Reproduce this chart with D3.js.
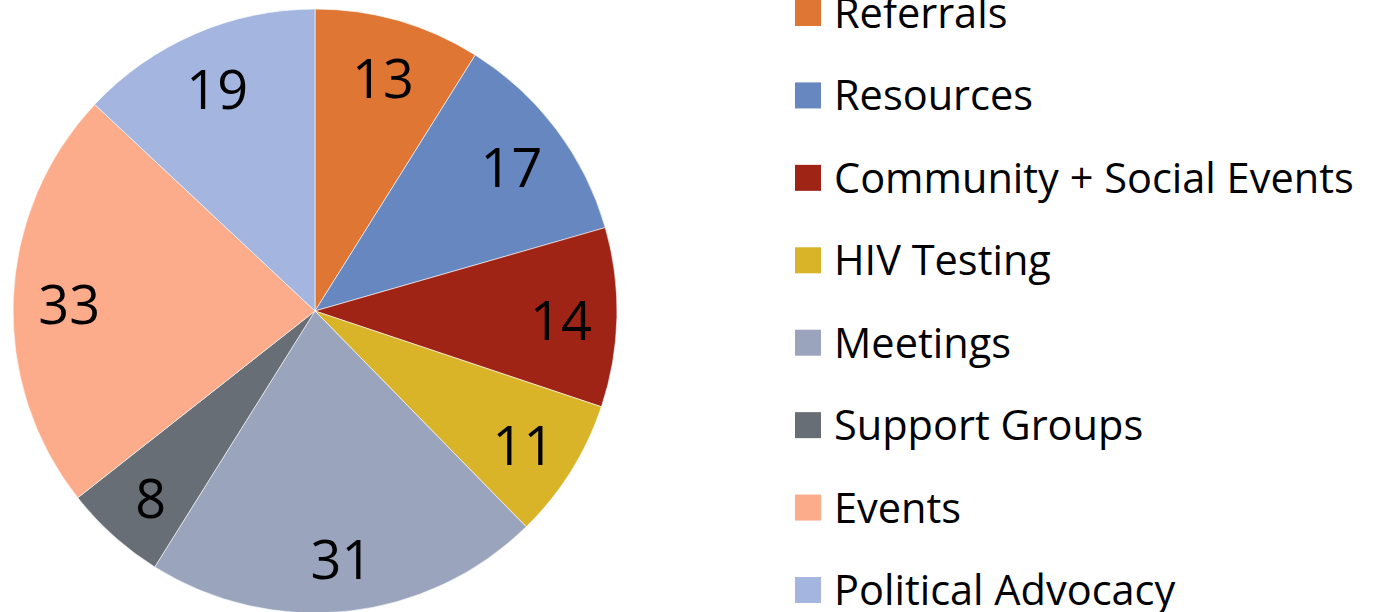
<!DOCTYPE html>
<html>
<head>
<meta charset="utf-8">
<script src="https://cdn.jsdelivr.net/npm/d3@7"></script>
<style>
  body { margin: 0; background: #fff; }
  text { font-family: "Open Sans", sans-serif; fill: #000; }
</style>
</head>
<body>
<div id="chart"></div>
<script>
// data
const categories = ["Referrals", "Resources", "Community + Social Events", "HIV Testing",
    "Meetings", "Support Groups", "Events", "Political Advocacy"]
const counts = [13, 17, 14, 11, 31, 8, 33, 19]
const colors = ["#E07633", "#6787C0", "#A02416", "#D9B429", "#9AA5BD", "#686E76", "#FDAC8B", "#A4B6E0"]

const width = 1373, height = 612

const svg = d3.select("#chart").append("svg")
    .attr("width", width)
    .attr("height", height)

const radius = 302
const cx = 315, cy = 311

const color = d3.scaleOrdinal().domain(categories).range(colors)

const pie = d3.pie().sort(null).value(d => d.value)
const slices = pie(categories.map((c, i) => ({ name: c, value: counts[i] })))

const arc = d3.arc().innerRadius(0).outerRadius(radius)
const labelArc = d3.arc().innerRadius(246).outerRadius(246)

const g = svg.append("g")
    .attr("transform", "translate(" + cx + "," + cy + ")")

g.selectAll(".slice")
    .data(slices)
    .enter().append("path")
    .attr("class", "slice")
    .attr("d", arc)
    .attr("fill", d => color(d.data.name))
    .attr("stroke", "#fff")
    .attr("stroke-width", 0.6)

g.selectAll(".value-label")
    .data(slices)
    .enter().append("text")
    .attr("class", "value-label")
    .attr("transform", d => "translate(" + labelArc.centroid(d) + ")")
    .attr("text-anchor", "middle")
    .attr("dy", "0.44em")
    .attr("font-size", "54px")
    .text(d => d.data.value)

// legend
const ly = d3.scalePoint().domain(categories).range([13, 590])

const legend = svg.selectAll(".legend-item")
    .data(categories)
    .enter().append("g")
    .attr("class", "legend-item")
    .attr("transform", d => "translate(795," + ly(d) + ")")

legend.append("rect")
    .attr("x", 0)
    .attr("y", -13)
    .attr("width", 26)
    .attr("height", 26)
    .attr("fill", d => color(d))

legend.append("text")
    .attr("x", 39)
    .attr("dy", "0.36em")
    .attr("font-size", "41.5px")
    .text(d => d)
</script>
</body>
</html>
